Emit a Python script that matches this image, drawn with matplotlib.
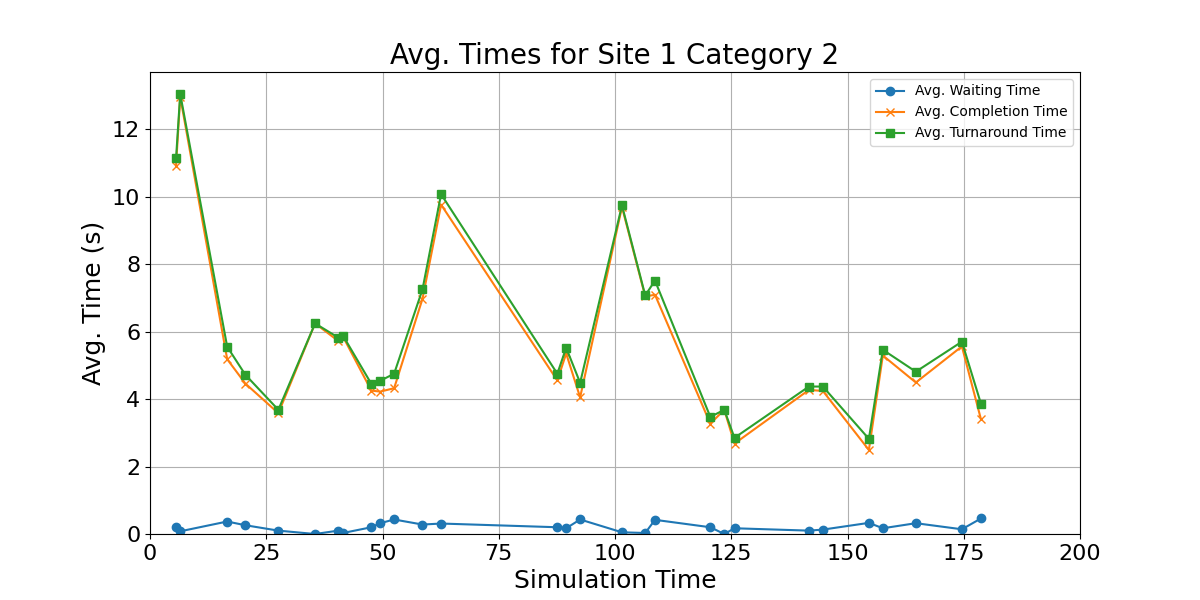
import matplotlib
matplotlib.use("Agg")
import matplotlib.pyplot as plt

sim_time = [5.6, 6.5, 16.6, 20.5, 27.6, 35.5, 40.5, 41.5, 47.6, 49.5, 52.5, 58.6, 62.6,
            87.6, 89.5, 92.5, 101.5, 106.5, 108.6, 120.5, 123.5, 125.7, 141.7, 144.7,
            154.6, 157.6, 164.7, 174.6, 178.7]
waiting = [0.22, 0.08, 0.37, 0.26, 0.10, 0.00, 0.10, 0.03, 0.20, 0.32, 0.43, 0.28, 0.31,
           0.20, 0.17, 0.43, 0.05, 0.03, 0.42, 0.20, 0.00, 0.17, 0.10, 0.13,
           0.33, 0.17, 0.32, 0.14, 0.46]
completion = [10.91, 12.96, 5.18, 4.46, 3.58, 6.24, 5.72, 5.85, 4.25, 4.22, 4.32, 6.97, 9.76,
              4.55, 5.35, 4.05, 9.69, 7.04, 7.09, 3.27, 3.68, 2.68, 4.27, 4.24,
              2.49, 5.29, 4.49, 5.56, 3.40]
turnaround = [11.13, 13.04, 5.55, 4.72, 3.68, 6.24, 5.82, 5.88, 4.45, 4.54, 4.75, 7.25, 10.07,
              4.75, 5.52, 4.48, 9.74, 7.07, 7.51, 3.47, 3.68, 2.85, 4.37, 4.37,
              2.82, 5.46, 4.81, 5.70, 3.86]

fig, ax = plt.subplots(figsize=(12, 6), dpi=100)
ax.plot(sim_time, waiting, marker="o", label="Avg. Waiting Time")
ax.plot(sim_time, completion, marker="x", label="Avg. Completion Time")
ax.plot(sim_time, turnaround, marker="s", label="Avg. Turnaround Time")
ax.set_xlim(0, 200)
ax.set_ylim(0, None)
ax.set_title("Avg. Times for Site 1 Category 2", fontsize=20)
ax.set_xlabel("Simulation Time", fontsize=18)
ax.set_ylabel("Avg. Time (s)", fontsize=18)
ax.tick_params(labelsize=16)
ax.grid(True)
ax.legend(fontsize=10, loc="upper right")
fig.savefig("out.png")
